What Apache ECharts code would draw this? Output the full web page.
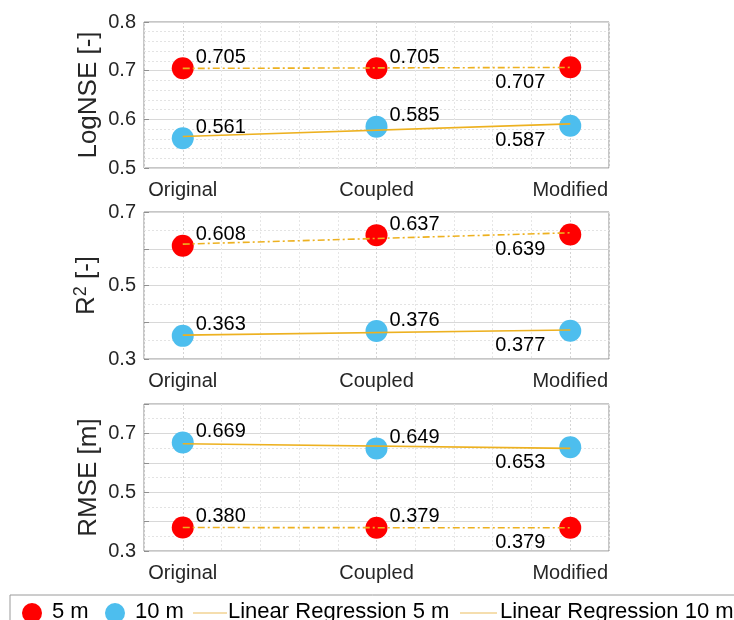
<!DOCTYPE html>
<html>
<head>
<meta charset="utf-8">
<script src="https://cdn.jsdelivr.net/npm/echarts@6/dist/echarts.min.js"></script>
<style>
html,body{margin:0;padding:0;background:#fff;}
#chart{width:734px;height:620px;}
</style>
</head>
<body>
<div id="chart"></div>
<script>
// ---- data ----
const categories = ['Original', 'Coupled', 'Modified'];
const xPositions = [1, 2, 3];
const logNSE5m = [0.705, 0.705, 0.707];
const logNSE10m = [0.561, 0.585, 0.587];
const r2_5m = [0.608, 0.637, 0.639];
const r2_10m = [0.363, 0.376, 0.377];
const rmse5m = [0.380, 0.379, 0.379];
const rmse10m = [0.669, 0.649, 0.653];
const yTicksLogNSE = [0.5, 0.6, 0.7, 0.8];
const yTicksR2 = [0.3, 0.5, 0.7];
const yTicksRMSE = [0.3, 0.5, 0.7];
const legendLabels = ['5 m', '10 m', 'Linear Regression 5 m', 'Linear Regression 10 m'];

// ---- styles ----
const FONT = 'Liberation Sans, Arial, sans-serif';
const RED = '#ff0000';
const BLUE = '#4dbeee';
const ORANGE = '#edb120';
const TXT = '#262626';

function linfit(xs, ys) {
  const n = xs.length;
  const mx = xs.reduce((a, b) => a + b, 0) / n;
  const my = ys.reduce((a, b) => a + b, 0) / n;
  let sxy = 0, sxx = 0;
  for (let i = 0; i < n; i++) { sxy += (xs[i] - mx) * (ys[i] - my); sxx += (xs[i] - mx) ** 2; }
  const b = sxy / sxx, a = my - b * mx;
  return [[xs[0], a + b * xs[0]], [xs[n - 1], a + b * xs[n - 1]]];
}

function scatterData(ys) {
  return ys.map((y, i) => {
    const last = i === ys.length - 1;
    return {
      value: [xPositions[i], y],
      label: last
        ? { position: 'left', distance: 5, offset: [-9, 15] }
        : { position: 'right', distance: 2, offset: [0, -11] }
    };
  });
}

const panels = [
  { top: 22, height: 146, min: 0.5, max: 0.8, ticks: yTicksLogNSE, minorSplit: 5, name: 'LogNSE [-]', s5: logNSE5m, s10: logNSE10m },
  { top: 212, height: 147, min: 0.3, max: 0.7, ticks: yTicksR2, minorSplit: 2, name: '{n|R}{sup|2}{n| [-]}', s5: r2_5m, s10: r2_10m },
  { top: 404, height: 147, min: 0.3, max: 0.8, ticks: yTicksRMSE, minorSplit: 2, name: 'RMSE [m]', s5: rmse5m, s10: rmse10m }
];

const grid = [], xAxis = [], yAxis = [], series = [];
panels.forEach((p, k) => {
  grid.push({ left: 144, width: 465, top: p.top, height: p.height, show: true, borderColor: '#8f8f8f', borderWidth: 1, backgroundColor: 'transparent' });
  xAxis.push({
    gridIndex: k, type: 'value', min: 0.8, max: 3.2, interval: 0.2,
    axisLine: { show: false }, axisTick: { show: false },
    axisLabel: {
      margin: 12, fontSize: 20, color: TXT, fontFamily: FONT,
      formatter: v => {
        const r = Math.round(v);
        return Math.abs(v - r) < 1e-6 && r >= 1 && r <= 3 ? categories[r - 1] : '';
      }
    },
    splitLine: { show: true, lineStyle: { color: ['#e6e6e6', '#d4d4d4', '#e6e6e6', '#e6e6e6', '#e6e6e6'], width: 1, type: [2, 2] } }
  });
  yAxis.push({
    gridIndex: k, type: 'value', min: p.min, max: p.max, interval: 0.1,
    name: p.name, nameLocation: 'middle', nameGap: 42, nameRotate: 90, nameMoveOverlap: false,
    nameTextStyle: {
      fontSize: 26, color: TXT, fontFamily: FONT,
      rich: { n: { fontSize: 26, color: TXT, fontFamily: FONT }, sup: { fontSize: 18, color: TXT, fontFamily: FONT, verticalAlign: 'top', padding: [0, 0, 12, 0] } }
    },
    axisLine: { show: false },
    axisTick: { show: true, inside: true, length: 5, lineStyle: { color: '#8f8f8f' } },
    axisLabel: {
      margin: 8, fontSize: 20, color: TXT, fontFamily: FONT, showMaxLabel: true,
      formatter: v => p.ticks.some(t => Math.abs(t - v) < 1e-6) ? v.toFixed(1) : ''
    },
    splitLine: { show: true, lineStyle: { color: '#d8d8d8', width: 1 } },
    minorTick: { show: false, splitNumber: p.minorSplit },
    minorSplitLine: { show: true, lineStyle: { color: '#e3e3e3', width: 1, type: [2, 2] } }
  });
  const lbl = { show: true, fontSize: 20, color: '#000', fontFamily: FONT, formatter: q => q.value[1].toFixed(3) };
  series.push({
    type: 'scatter', xAxisIndex: k, yAxisIndex: k, symbol: 'circle', symbolSize: 22,
    itemStyle: { color: RED, opacity: 1 }, label: lbl, data: scatterData(p.s5), z: 2
  });
  series.push({
    type: 'scatter', xAxisIndex: k, yAxisIndex: k, symbol: 'circle', symbolSize: 22,
    itemStyle: { color: BLUE, opacity: 1 }, label: lbl, data: scatterData(p.s10), z: 2
  });
  series.push({
    type: 'line', xAxisIndex: k, yAxisIndex: k, showSymbol: false, symbol: 'none',
    lineStyle: { color: ORANGE, width: 1.6, type: [7, 3, 2, 3] }, data: linfit(xPositions, p.s5), z: 3, silent: true
  });
  series.push({
    type: 'line', xAxisIndex: k, yAxisIndex: k, showSymbol: false, symbol: 'none',
    lineStyle: { color: ORANGE, width: 1.6 }, data: linfit(xPositions, p.s10), z: 3, silent: true
  });
});

const legendY = 613;
const legendText = (x, t) => ({ type: 'text', left: x, top: legendY - 12, style: { text: t, fontSize: 22, fill: '#000', font: '22px ' + FONT } });
const graphic = [
  { type: 'rect', shape: { x: 10, y: 595, width: 740, height: 40 }, style: { fill: '#fff', stroke: '#9a9a9a', lineWidth: 1 } },
  { type: 'circle', shape: { cx: 32, cy: legendY, r: 10 }, style: { fill: RED } },
  legendText(52, legendLabels[0]),
  { type: 'circle', shape: { cx: 115, cy: legendY, r: 10 }, style: { fill: BLUE } },
  legendText(135, legendLabels[1]),
  { type: 'line', shape: { x1: 193, y1: legendY, x2: 227, y2: legendY }, style: { stroke: '#f5deae', lineWidth: 2 } },
  legendText(228, legendLabels[2]),
  { type: 'line', shape: { x1: 460, y1: legendY, x2: 497, y2: legendY }, style: { stroke: '#f5deae', lineWidth: 2 } },
  legendText(500, legendLabels[3])
];

const chart = echarts.init(document.getElementById('chart'), null, { renderer: 'canvas' });
chart.setOption({ animation: false, backgroundColor: '#fff', grid, xAxis, yAxis, series, graphic });
</script>
</body>
</html>
